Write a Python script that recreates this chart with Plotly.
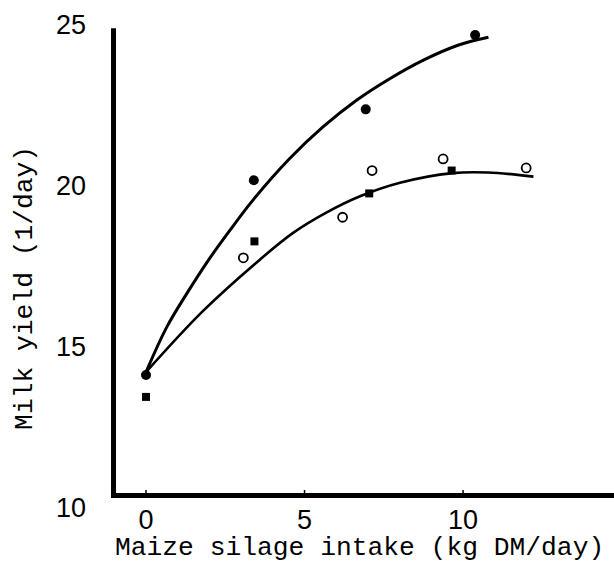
import plotly.graph_objects as go

filled_circle_x = [0.0, 3.40, 6.93, 10.38]
filled_circle_y = [14.13, 20.18, 22.38, 24.69]

filled_square_x = [0.0, 3.42, 7.04, 9.64]
filled_square_y = [13.45, 18.28, 19.77, 20.48]

open_circle_x = [3.07, 6.20, 7.13, 9.37, 11.99]
open_circle_y = [17.77, 19.03, 20.48, 20.84, 20.56]

# Fitted response curves
upper_curve_x = [0.0, 0.65, 1.28, 1.97, 2.65, 3.38, 4.54, 5.59, 6.65, 7.70, 8.75, 9.86, 10.80]
upper_curve_y = [14.22, 15.61, 16.65, 17.70, 18.63, 19.57, 20.86, 21.84, 22.67, 23.34, 23.91, 24.38, 24.62]

lower_curve_x = [0.0, 1.80, 3.60, 4.65, 5.70, 6.75, 8.01, 9.66, 10.79, 12.22]
lower_curve_y = [14.22, 16.12, 17.72, 18.55, 19.18, 19.68, 20.10, 20.40, 20.42, 20.29]

x_ticks = [0, 5, 10]
x_tick_labels = ["0", "5", "10"]
y_ticks = [10, 15, 20, 25]
y_tick_labels = ["10", "15", "20", "25"]

x_title = "Maize silage intake (kg DM/day)"
y_title = "Milk yield (1/day)"

X_RANGE = [-1.104, 14.76]
Y_RANGE = [10.0, 25.155]
AXIS_Y = 10.39     # level of drawn x-axis line
AXIS_TOP = 24.9

fig = go.Figure()

fig.add_trace(go.Scatter(x=upper_curve_x, y=upper_curve_y, mode="lines",
                         line=dict(color="black", width=3, shape="spline", smoothing=1.0),
                         showlegend=False, hoverinfo="skip"))
fig.add_trace(go.Scatter(x=lower_curve_x, y=lower_curve_y, mode="lines",
                         line=dict(color="black", width=2.6, shape="spline", smoothing=1.0),
                         showlegend=False, hoverinfo="skip"))

fig.add_trace(go.Scatter(x=filled_circle_x, y=filled_circle_y, mode="markers",
                         marker=dict(symbol="circle", size=10, color="black"),
                         showlegend=False))
fig.add_trace(go.Scatter(x=filled_square_x, y=filled_square_y, mode="markers",
                         marker=dict(symbol="square", size=8, color="black"),
                         showlegend=False))
fig.add_trace(go.Scatter(x=open_circle_x, y=open_circle_y, mode="markers",
                         marker=dict(symbol="circle-open", size=9, color="black",
                                     line=dict(width=1.8, color="black")),
                         showlegend=False))

shapes = [
    # x-axis line
    dict(type="line", xref="paper", yref="y", x0=0, x1=1, y0=AXIS_Y, y1=AXIS_Y,
         line=dict(color="black", width=5)),
    # y-axis line
    dict(type="line", xref="paper", yref="y", x0=0.005, x1=0.005, y0=AXIS_Y - 0.08, y1=AXIS_TOP,
         line=dict(color="black", width=5)),
]
for t in x_ticks:
    shapes.append(dict(type="line", xref="x", yref="y", x0=t, x1=t,
                       y0=AXIS_Y, y1=AXIS_Y + 0.17,
                       line=dict(color="black", width=1.5)))

tick_font = dict(family="Liberation Sans, Arial, sans-serif", size=27, color="black")
title_font = dict(family="Liberation Mono, Courier New, monospace", size=26.3, color="black")

fig.update_layout(
    width=614, height=563,
    margin=dict(l=111, r=0, t=20, b=55),
    paper_bgcolor="white", plot_bgcolor="white",
    shapes=shapes,
    xaxis=dict(range=X_RANGE, tickvals=x_ticks, ticktext=x_tick_labels,
               showgrid=False, zeroline=False, showline=False, ticks="",
               tickfont=tick_font, ticklabelstandoff=-7, fixedrange=True),
    yaxis=dict(range=Y_RANGE, tickvals=y_ticks, ticktext=y_tick_labels,
               showgrid=False, zeroline=False, showline=False, ticks="",
               tickfont=tick_font, ticklabelstandoff=24, fixedrange=True),
    annotations=[
        dict(text=x_title, xref="paper", yref="paper", x=0.495, y=-0.081,
             xanchor="center", yanchor="middle", showarrow=False, font=title_font),
        dict(text=y_title, xref="paper", yref="paper", x=-0.171, y=0.451,
             xanchor="center", yanchor="middle", textangle=-90, showarrow=False,
             font=title_font),
    ],
)

fig.write_html(
    "out.html",
    config={"displayModeBar": False},
    post_script="document.body.style.margin='0';document.body.style.overflow='hidden';",
)
